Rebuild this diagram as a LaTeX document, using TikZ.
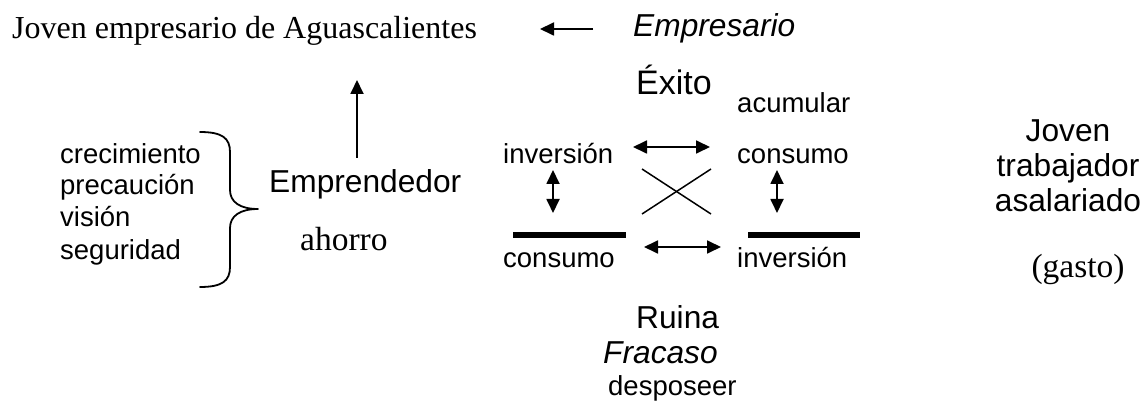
\documentclass[tikz,border=0pt]{standalone}
\usepackage{fontspec}
\setmainfont{Liberation Serif}
\setsansfont{Liberation Sans}
\usetikzlibrary{arrows.meta}
\tikzset{
  serif/.style={font=\fontsize{32}{38}\selectfont\rmfamily, inner sep=0pt},
  serifb/.style={font=\fontsize{33.5}{40}\selectfont\rmfamily, inner sep=0pt},
  sansL/.style={font=\fontsize{31.7}{38}\selectfont\sffamily, inner sep=0pt},
  sansX/.style={font=\fontsize{34}{40}\selectfont\sffamily, inner sep=0pt},
  sansS/.style={font=\fontsize{27.5}{32}\selectfont\sffamily, inner sep=0pt},
  arr/.style={line width=1.8pt, -{Triangle[length=14pt,width=13pt]}},
  darr/.style={line width=1.8pt, {Triangle[length=14pt,width=13pt]}-{Triangle[length=14pt,width=13pt]}},
  thickbar/.style={line width=6pt},
  cross/.style={line width=1.5pt},
  bracepath/.style={line width=1.8pt, line cap=round, line join=round},
}
\begin{document}
\begin{tikzpicture}[x=1pt,y=-1pt]
\useasboundingbox (0,0) rectangle (1145,403);

% top line
\node[serif, anchor=base west] (title) at (12,39) {Joven empresario de Aguascalientes};
\node[sansL, anchor=base west] (empresario) at (633,37) {\itshape Empresario};
\coordinate (la1) at (593,29);
\coordinate (la2) at (540,29);
\draw[arr] (la1) -- (la2);

% left list and brace
\node[sansS, anchor=base west] (l1) at (60,164) {crecimiento};
\node[sansS, anchor=base west] (l2) at (60,195) {precaución};
\node[sansS, anchor=base west] (l3) at (60,227) {visión};
\node[sansS, anchor=base west] (l4) at (60,259) {seguridad};
\coordinate (bt) at (200,132);
\coordinate (btip) at (258,209);
\coordinate (bb) at (200,287);
\draw[bracepath] (bt) .. controls (222,132) and (230,138) .. (230,152)
  -- (230,190) .. controls (230,202) and (240,209) .. (btip)
  .. controls (240,209) and (230,216) .. (230,228)
  -- (230,267) .. controls (230,281) and (222,287) .. (bb);

% Emprendedor
\node[sansL, anchor=base west] (empr) at (269,193) {Emprendedor};
\node[serifb, anchor=base west] (ahorro) at (300,251) {ahorro};
\coordinate (ua1) at (357,158);
\coordinate (ua2) at (357,80);
\draw[arr] (ua1) -- (ua2);

% center
\node[sansX, anchor=base west] (exito) at (636,95) {Éxito};
\node[sansS, anchor=base west] (acum) at (737,113) {acumular};
\node[sansS, anchor=base west] (inv1) at (503,164) {inversión};
\node[sansS, anchor=base west] (cons1) at (737,164) {consumo};
\coordinate (ha1) at (633,147);
\coordinate (ha2) at (710,147);
\draw[darr] (ha1) -- (ha2);
\coordinate (x1) at (642,169);
\coordinate (x2) at (711,214);
\coordinate (x3) at (642,214);
\coordinate (x4) at (711,169);
\draw[cross] (x1) -- (x2);
\draw[cross] (x3) -- (x4);
\coordinate (va1) at (553,170);
\coordinate (va2) at (553,213);
\draw[darr] (va1) -- (va2);
\coordinate (vb1) at (777,170);
\coordinate (vb2) at (777,213);
\draw[darr] (vb1) -- (vb2);
\coordinate (bar1a) at (513,235);
\coordinate (bar1b) at (626,235);
\draw[thickbar] (bar1a) -- (bar1b);
\coordinate (bar2a) at (748,235);
\coordinate (bar2b) at (860,235);
\draw[thickbar] (bar2a) -- (bar2b);
\coordinate (hb1) at (644,247);
\coordinate (hb2) at (721,247);
\draw[darr] (hb1) -- (hb2);
\node[sansS, anchor=base west] (cons2) at (503,267) {consumo};
\node[sansS, anchor=base west] (inv2) at (737,267) {inversión};

% bottom
\node[sansL, anchor=base west] (ruina) at (636,328) {Ruina};
\node[sansL, anchor=base west] (fracaso) at (603,363) {\itshape Fracaso};
\node[sansS, anchor=base west] (desp) at (608,395) {desposeer};

% right
\node[sansL, anchor=base] (r1) at (1068,142) {Joven};
\node[sansL, anchor=base] (r2) at (1068,177) {trabajador};
\node[sansL, anchor=base] (r3) at (1068,212) {asalariado};
\node[serifb, anchor=base] (gasto) at (1078,277) {(gasto)};
\end{tikzpicture}
\end{document}
